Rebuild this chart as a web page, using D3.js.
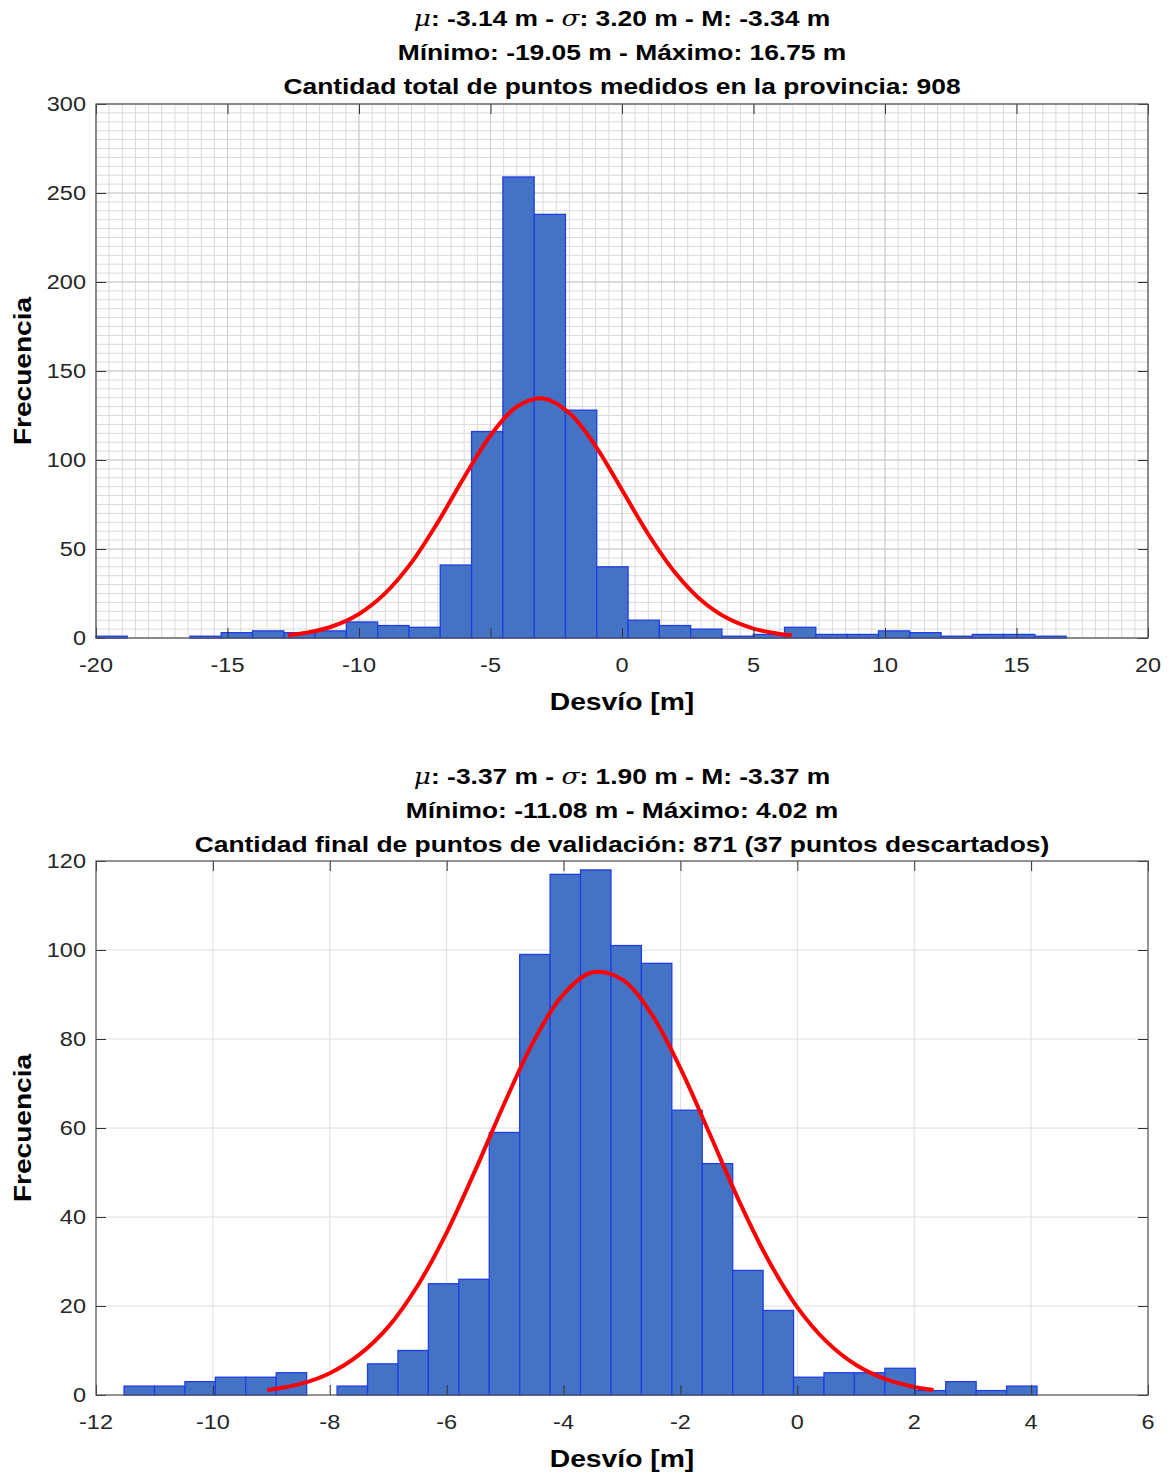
<!DOCTYPE html>
<html>
<head>
<meta charset="utf-8">
<script src="https://cdn.jsdelivr.net/npm/d3@7"></script>
<style>
  html, body { margin: 0; padding: 0; background: #ffffff; }
  svg { display: block; }
</style>
</head>
<body>
<svg id="chart" width="1170" height="1475"></svg>
<script>
// ---------------- DATA ----------------
// Top histogram: all measured points
const topTitle1 = ["μ", ": -3.14 m - ", "σ", ": 3.20 m - M: -3.34 m"];
const topTitle2 = "Mínimo: -19.05 m - Máximo: 16.75 m";
const topTitle3 = "Cantidad total de puntos medidos en la provincia: 908";
const topBinStart = -20;
const topBinWidth = 1.19;
const topCounts = [1, 0, 0, 1, 3, 4, 3, 4, 9, 7, 6, 41, 116, 259, 238, 128, 40, 10, 7, 5, 1, 2, 6, 2, 2, 4, 3, 1, 2, 2, 1];
const topXTicks = [-20, -15, -10, -5, 0, 5, 10, 15, 20];
const topYTicks = [0, 50, 100, 150, 200, 250, 300];
const topXDomain = [-20, 20];
const topYDomain = [0, 300];
// red fitted curve
const topCurveX = [-12.7, -12, -11, -10, -9, -8, -7, -6, -5, -4, -3, -2, -1, 0, 1, 2, 3, 4, 5, 6, 6.46];
const topCurveY = [1.6, 2.9, 6.6, 13.5, 25.2, 42.5, 65.1, 90.3, 113.8, 129.9, 134.6, 126.4, 107.7, 83.2, 58.3, 37.1, 21.4, 11.2, 5.3, 2.3, 1.5];

// Bottom histogram: final validation points
const botTitle1 = ["μ", ": -3.37 m - ", "σ", ": 1.90 m - M: -3.37 m"];
const botTitle2 = "Mínimo: -11.08 m - Máximo: 4.02 m";
const botTitle3 = "Cantidad final de puntos de validación: 871 (37 puntos descartados)";
const botBinStart = -11.52;
const botBinWidth = 0.5207;
const botCounts = [2, 2, 3, 4, 4, 5, 0, 2, 7, 10, 25, 26, 59, 99, 117, 118, 101, 97, 64, 52, 28, 19, 4, 5, 5, 6, 1, 3, 1, 2];
const botXTicks = [-12, -10, -8, -6, -4, -2, 0, 2, 4, 6];
const botYTicks = [0, 20, 40, 60, 80, 100, 120];
const botXDomain = [-12, 6];
const botYDomain = [0, 120];
const botCurveX = [-9.07, -8.5, -8, -7.5, -7, -6.5, -6, -5.5, -5, -4.5, -4, -3.5, -3, -2.5, -2, -1.5, -1, -0.5, 0, 0.5, 1, 1.5, 2, 2.33];
const botCurveY = [1.1, 2.5, 4.9, 9.0, 15.3, 24.5, 36.5, 50.8, 65.9, 79.8, 90.1, 95.0, 93.4, 85.7, 73.4, 58.7, 43.7, 30.4, 19.7, 12.0, 6.8, 3.6, 1.8, 1.1];

const xLabel = "Desvío [m]";
const yLabel = "Frecuencia";

// ---------------- DRAWING ----------------
const svg = d3.select("#chart");
const FONT = "'Liberation Sans', Arial, Helvetica, sans-serif";
const TXT = "#000000";
const TICKTXT = "#262626";
const SX = 1.12; // horizontal text stretch seen in the reference

function stretchedText(g, x, y, opts) {
  const gg = g.append("g").attr("transform", `translate(${x},${y}) scale(${opts.sx || SX},1)`);
  return gg.append("text")
    .attr("x", 0).attr("y", 0)
    .attr("text-anchor", opts.anchor || "middle")
    .attr("font-family", FONT)
    .attr("font-size", opts.size)
    .attr("font-weight", opts.weight || "normal")
    .attr("fill", opts.fill || TXT);
}

function drawPanel(cfg) {
  const g = svg.append("g");
  const x = d3.scaleLinear().domain(cfg.xDomain).range([cfg.left, cfg.right]);
  const y = d3.scaleLinear().domain(cfg.yDomain).range([cfg.bottom, cfg.top]);

  // grid
  const grid = g.append("g");
  if (cfg.minor) {
    const xm = d3.range(cfg.xDomain[0], cfg.xDomain[1] + 1e-9, cfg.minor.x);
    const ym = d3.range(cfg.yDomain[0], cfg.yDomain[1] + 1e-9, cfg.minor.y);
    grid.selectAll(".xm").data(xm).join("line")
      .attr("x1", d => x(d)).attr("x2", d => x(d))
      .attr("y1", cfg.top).attr("y2", cfg.bottom)
      .attr("stroke", "#d9d9d9").attr("stroke-width", 1);
    grid.selectAll(".ym").data(ym).join("line")
      .attr("x1", cfg.left).attr("x2", cfg.right)
      .attr("y1", d => y(d)).attr("y2", d => y(d))
      .attr("stroke", "#d9d9d9").attr("stroke-width", 1);
  }
  grid.selectAll(".xg").data(cfg.xTicks).join("line")
    .attr("x1", d => x(d)).attr("x2", d => x(d))
    .attr("y1", cfg.top).attr("y2", cfg.bottom)
    .attr("stroke", cfg.minor ? "#cccccc" : "#dedede").attr("stroke-width", 1);
  grid.selectAll(".yg").data(cfg.yTicks).join("line")
    .attr("x1", cfg.left).attr("x2", cfg.right)
    .attr("y1", d => y(d)).attr("y2", d => y(d))
    .attr("stroke", cfg.minor ? "#cccccc" : "#dedede").attr("stroke-width", 1);

  // bars
  const bins = cfg.counts.map((c, i) => ({
    x0: cfg.binStart + i * cfg.binWidth,
    x1: cfg.binStart + (i + 1) * cfg.binWidth,
    c: c
  })).filter(b => b.c > 0);
  g.append("g").selectAll("rect").data(bins).join("rect")
    .attr("x", d => x(d.x0))
    .attr("width", d => x(d.x1) - x(d.x0))
    .attr("y", d => y(d.c))
    .attr("height", d => y(0) - y(d.c))
    .attr("fill", "#4472c4")
    .attr("stroke", "#1f3fe6")
    .attr("stroke-width", 1.3);

  // fitted curve
  const pts = cfg.curveX.map((v, i) => [v, cfg.curveY[i]]);
  g.append("path")
    .datum(pts)
    .attr("d", d3.line().x(d => x(d[0])).y(d => y(d[1])).curve(d3.curveCatmullRom.alpha(0.5)))
    .attr("fill", "none")
    .attr("stroke", "#ff0000")
    .attr("stroke-width", 4)
    .attr("stroke-linecap", "butt");

  // axes with inward ticks (MATLAB style box)
  const tl = 10;
  const ax = g.append("g").attr("transform", `translate(0,${cfg.bottom})`)
    .call(d3.axisBottom(x).tickValues(cfg.xTicks).tickSize(-tl).tickPadding(0).tickFormat(""));
  const axT = g.append("g").attr("transform", `translate(0,${cfg.top})`)
    .call(d3.axisTop(x).tickValues(cfg.xTicks).tickSize(-tl).tickFormat(""));
  const ay = g.append("g").attr("transform", `translate(${cfg.left},0)`)
    .call(d3.axisLeft(y).tickValues(cfg.yTicks).tickSize(-tl).tickFormat(""));
  const ayR = g.append("g").attr("transform", `translate(${cfg.right},0)`)
    .call(d3.axisRight(y).tickValues(cfg.yTicks).tickSize(-tl).tickFormat(""));
  [ax, axT, ay, ayR].forEach(a => {
    a.select(".domain").remove();
    a.selectAll(".tick line").attr("stroke", "#333").attr("stroke-width", 1);
  });
  g.append("rect")
    .attr("x", cfg.left).attr("y", cfg.top)
    .attr("width", cfg.right - cfg.left).attr("height", cfg.bottom - cfg.top)
    .attr("fill", "none").attr("stroke", "#555").attr("stroke-width", 1.2);

  // tick labels
  cfg.xTicks.forEach(t => {
    stretchedText(g, x(t), cfg.bottom + 34, { size: 21, fill: TICKTXT }).text(t);
  });
  cfg.yTicks.forEach(t => {
    stretchedText(g, cfg.left - 10, y(t) + 7, { size: 21, fill: TICKTXT, anchor: "end" }).text(t);
  });

  // axis labels
  const cx = (cfg.left + cfg.right) / 2;
  stretchedText(g, cx, cfg.bottom + 72, { size: 23, weight: "bold", sx: 1.23 }).text(xLabel);
  const cy = (cfg.top + cfg.bottom) / 2;
  const yl = g.append("g").attr("transform", `translate(31,${cy}) rotate(-90) scale(1.22,1)`);
  yl.append("text").attr("text-anchor", "middle")
    .attr("font-family", FONT).attr("font-size", 23).attr("font-weight", "bold")
    .attr("fill", TXT).text(yLabel);

  // titles
  const t1 = stretchedText(g, cx, cfg.titleY[0], { size: 22, weight: "bold", sx: 1.2 });
  cfg.title1.forEach((s, i) => {
    const sp = t1.append("tspan").text(s);
    if (i % 2 === 0) {
      sp.attr("font-style", "italic").attr("font-weight", "normal")
        .attr("font-family", "'DejaVu Serif', 'Liberation Serif', serif");
    }
  });
  stretchedText(g, cx, cfg.titleY[1], { size: 22, weight: "bold", sx: 1.2 }).text(cfg.title2);
  stretchedText(g, cx, cfg.titleY[2], { size: 22, weight: "bold", sx: 1.2 }).text(cfg.title3);
}

drawPanel({
  left: 96, right: 1148, top: 104, bottom: 638,
  xDomain: topXDomain, yDomain: topYDomain,
  xTicks: topXTicks, yTicks: topYTicks,
  minor: { x: 0.5, y: 5 },
  binStart: topBinStart, binWidth: topBinWidth, counts: topCounts,
  curveX: topCurveX, curveY: topCurveY,
  title1: topTitle1, title2: topTitle2, title3: topTitle3,
  titleY: [26, 60, 94]
});

drawPanel({
  left: 96, right: 1148, top: 861, bottom: 1395,
  xDomain: botXDomain, yDomain: botYDomain,
  xTicks: botXTicks, yTicks: botYTicks,
  minor: null,
  binStart: botBinStart, binWidth: botBinWidth, counts: botCounts,
  curveX: botCurveX, curveY: botCurveY,
  title1: botTitle1, title2: botTitle2, title3: botTitle3,
  titleY: [784, 818, 852]
});
</script>
</body>
</html>
